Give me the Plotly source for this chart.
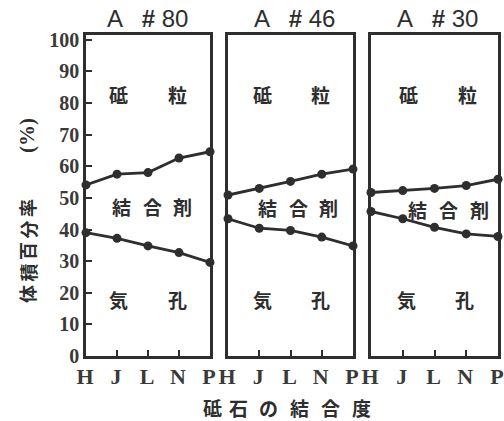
import plotly.graph_objects as go

grades = ["H", "J", "L", "N", "P"]
panel_titles = ["A   <b>#</b> 80", "A   <b>#</b> 46", "A   <b>#</b> 30"]
# upper boundary (grain / binder) and lower boundary (binder / pore), volume %
upper_80 = [54.1, 57.5, 58.0, 62.6, 64.6]
lower_80 = [39.0, 37.2, 34.8, 32.7, 29.6]
upper_46 = [50.9, 53.0, 55.2, 57.5, 59.1]
lower_46 = [43.4, 40.4, 39.7, 37.6, 34.8]
upper_30 = [51.7, 52.3, 53.0, 53.9, 55.9]
lower_30 = [45.7, 43.4, 40.7, 38.6, 37.8]
y_ticks = [0, 10, 20, 30, 40, 50, 60, 70, 80, 90, 100]

uppers = [upper_80, upper_46, upper_30]
lowers = [lower_80, lower_46, lower_30]

W, H = 504, 421
px_domains = [(86, 210), (228, 353), (371, 498)]
y_top, y_bot = 35, 356
ydom = [1 - y_bot / H, 1 - y_top / H]

INK = "#2e2e2e"
LABEL = "#3a3a3a"
serif = "Liberation Serif"
sans = "Liberation Sans"
cjk = "Noto Sans CJK JP"

fig = go.Figure()
xpos = list(range(len(grades)))
for i in range(3):
    xa = "x" if i == 0 else f"x{i+1}"
    ya = "y" if i == 0 else f"y{i+1}"
    for series in (uppers[i], lowers[i]):
        fig.add_trace(go.Scatter(
            x=xpos, y=series, xaxis=xa, yaxis=ya, mode="lines+markers",
            line=dict(color=INK, width=2.8),
            marker=dict(size=9, color=INK),
            showlegend=False, cliponaxis=False, hoverinfo="skip"))

layout = dict(
    width=W, height=H, margin=dict(l=0, r=0, t=0, b=0),
    paper_bgcolor="white", plot_bgcolor="white", showlegend=False,
)
for i, (a, b) in enumerate(px_domains):
    sfx = "" if i == 0 else str(i + 1)
    layout[f"xaxis{sfx}"] = dict(
        domain=[a / W, b / W], range=[0, 4], tickvals=xpos, ticktext=grades,
        ticks="inside", ticklen=6, tickwidth=2, tickcolor=INK,
        showline=True, linecolor=INK, linewidth=2.6, mirror=True,
        showgrid=False, zeroline=False, anchor="y" + sfx, automargin=False,
        ticklabelshift=-1, ticklabelstandoff=-1,
        tickfont=dict(family=serif, size=22, color=LABEL, weight="bold"),
    )
    layout[f"yaxis{sfx}"] = dict(
        domain=ydom, range=[0, 101.5], tickvals=y_ticks,
        ticks="inside" if i == 0 else "", ticklen=6, tickwidth=2, tickcolor=INK,
        showticklabels=(i == 0),
        showline=True, linecolor=INK, linewidth=2.6, mirror=True,
        showgrid=False, zeroline=False, anchor="x" + sfx, automargin=False,
        tickfont=dict(family=serif, size=20, color=LABEL, weight="bold"),
    )
fig.update_layout(**layout)

ann = []
def chars(text, xref, yref, x0, y, pitch_data, size=19):
    for k, ch in enumerate(text):
        ann.append(dict(text=ch, x=x0 + k * pitch_data, y=y, xref=xref, yref=yref,
                        showarrow=False, font=dict(family=cjk, size=size, color=INK, weight="bold"),
                        xanchor="center", yanchor="middle"))

grain_x = [(1.05, 2.95), (1.1, 2.95), (1.17, 3.04)]
binder_c = [2.13, 2.24, 2.43]
binder_y = [47.2, 46.8, 46.2]
title_left = [105, 252, 395]
for i in range(3):
    sfx = "" if i == 0 else str(i + 1)
    xr, yr = "x" + sfx, "y" + sfx
    a, b = grain_x[i]
    chars("砥", xr, yr, a, 82.6, 0)
    chars("粒", xr, yr, b, 82.6, 0)
    chars("気", xr, yr, a - 0.05 if i == 2 else a, 18.0, 0)
    chars("孔", xr, yr, b - 0.1 if i == 2 else b, 18.0, 0)
    chars("結合剤", xr, yr, binder_c[i] - 0.98, binder_y[i], 0.98)
    ann.append(dict(text=panel_titles[i], x=title_left[i] / W, y=1 - 18.5 / H,
                    xref="paper", yref="paper", showarrow=False,
                    font=dict(family=sans, size=24, color=INK),
                    xanchor="left", yanchor="middle"))

# y axis title, character by character (rotated)
ytitle_chars = ["体", "積", "百", "分", "率"]
ytitle_pos = [294, 272.5, 251, 229.5, 208]
for ch, yp in zip(ytitle_chars, ytitle_pos):
    ann.append(dict(text=ch, x=27 / W, y=1 - yp / H, xref="paper", yref="paper",
                    showarrow=False, textangle=-90,
                    font=dict(family=cjk, size=18, color=INK, weight="bold"),
                    xanchor="center", yanchor="middle"))
ann.append(dict(text="(%)", x=27 / W, y=1 - 136 / H, xref="paper", yref="paper",
                showarrow=False, textangle=-90,
                font=dict(family=serif, size=21, color=INK, weight="bold"),
                xanchor="center", yanchor="middle"))

xt = "砥石の結合度"
xt_pos = [212, 238, 268, 299, 330, 361]
for ch, xp in zip(xt, xt_pos):
    ann.append(dict(text=ch, x=xp / W, y=1 - 407 / H, xref="paper", yref="paper",
                    showarrow=False, font=dict(family=cjk, size=19, color=INK, weight="bold"),
                    xanchor="center", yanchor="middle"))

fig.update_layout(annotations=ann)
fig.write_html("out.html", config={"displayModeBar": False},
               post_script="document.body.style.margin='0';document.body.style.overflow='hidden';")
